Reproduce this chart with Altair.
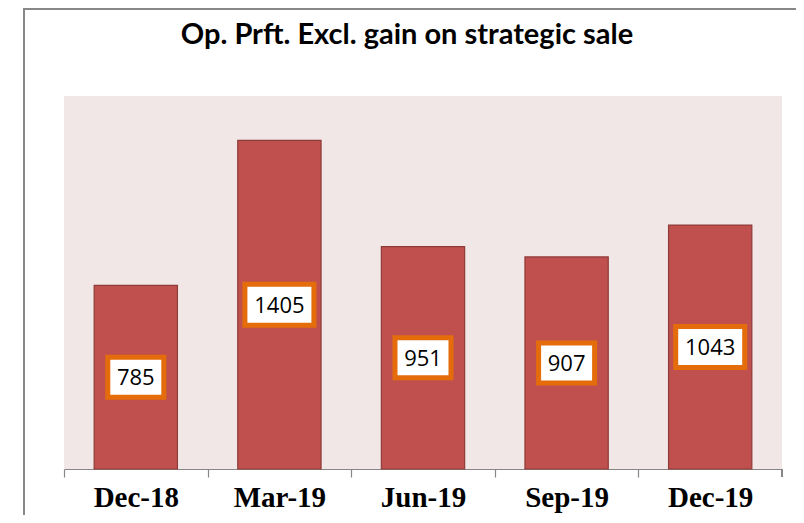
import altair as alt
import pandas as pd

categories = ["Dec-18", "Mar-19", "Jun-19", "Sep-19", "Dec-19"]
values = [785, 1405, 951, 907, 1043]
title_text = "Op. Prft. Excl. gain on strategic sale"

df = pd.DataFrame({"quarter": categories, "value": values})

BOX3 = "M-1,-0.714L1,-0.714L1,0.714L-1,0.714Z"
BOX4 = "M-1,-0.594L1,-0.594L1,0.594L-1,0.594Z"
W, H = 718, 373
STEP = W / len(categories)

x = alt.X("quarter:N", sort=categories, title=None,
          scale=alt.Scale(paddingInner=0.42, paddingOuter=0.21),
          axis=alt.Axis(labelAngle=0, tickOffset=-STEP / 2, labelOffset=STEP / 2,
                        domainColor="#868686",
                        tickColor="#868686", tickSize=8, domainWidth=1.2, tickWidth=1.2,
                        labelFont="Liberation Serif", labelFontWeight="bold",
                        labelFontSize=29, labelColor="#000000", labelPadding=6,
                        labelBaseline="top"))
y = alt.Y("value:Q", title=None, scale=alt.Scale(domain=[0, 1595], nice=False),
          axis=None)
ymid = alt.Y("mid:Q", scale=alt.Scale(domain=[0, 1595], nice=False), axis=None)

base = alt.Chart(df)

bars = base.mark_bar(color="#C0504D", stroke="#8E3B39", strokeWidth=1.2).encode(x=x, y=y)

mid = base.transform_calculate(mid="datum.value / 2")

boxes = mid.mark_point(filled=True, fill="#FFFFFF", stroke="#E46C0A",
                       strokeWidth=5, opacity=1).encode(
    x=x, y=ymid,
    shape=alt.condition("datum.value >= 1000", alt.value(BOX4), alt.value(BOX3)),
    size=alt.condition("datum.value >= 1000", alt.value(4761), alt.value(3136)),
)

texts = mid.mark_text(font="Open Sans", fontSize=22, color="#000000",
                      baseline="middle", dy=1).encode(x=x, y=ymid, text="value:Q")

last_tick = alt.Chart(df).mark_rule(color="#868686", strokeWidth=1.2).encode(
    x=alt.value(W), y=alt.value(H), y2=alt.value(H + 8))

frame_left = alt.Chart(df).mark_rule(color="#888888", strokeWidth=2).encode(
    x=alt.value(-40), y=alt.value(-87), y2=alt.value(430))
frame_top = alt.Chart(df).mark_rule(color="#888888", strokeWidth=2).encode(
    x=alt.value(-41), x2=alt.value(740), y=alt.value(-87))

chart = alt.layer(bars, boxes, texts, last_tick, frame_left, frame_top).properties(
    width=W, height=H,
    title=alt.TitleParams(title_text, font="Lato", fontWeight="bold", fontSize=29,
                          color="#000000", anchor="middle", dx=-16, offset=-42),
    padding={"left": 56, "top": 88, "right": 14, "bottom": 46},
    autosize=alt.AutoSizeParams(type="none"),
    background="#FFFFFF",
).configure_view(fill="#F2E7E7", stroke=None)

chart.save("out.html", embed_options={"renderer": "svg", "actions": False})
